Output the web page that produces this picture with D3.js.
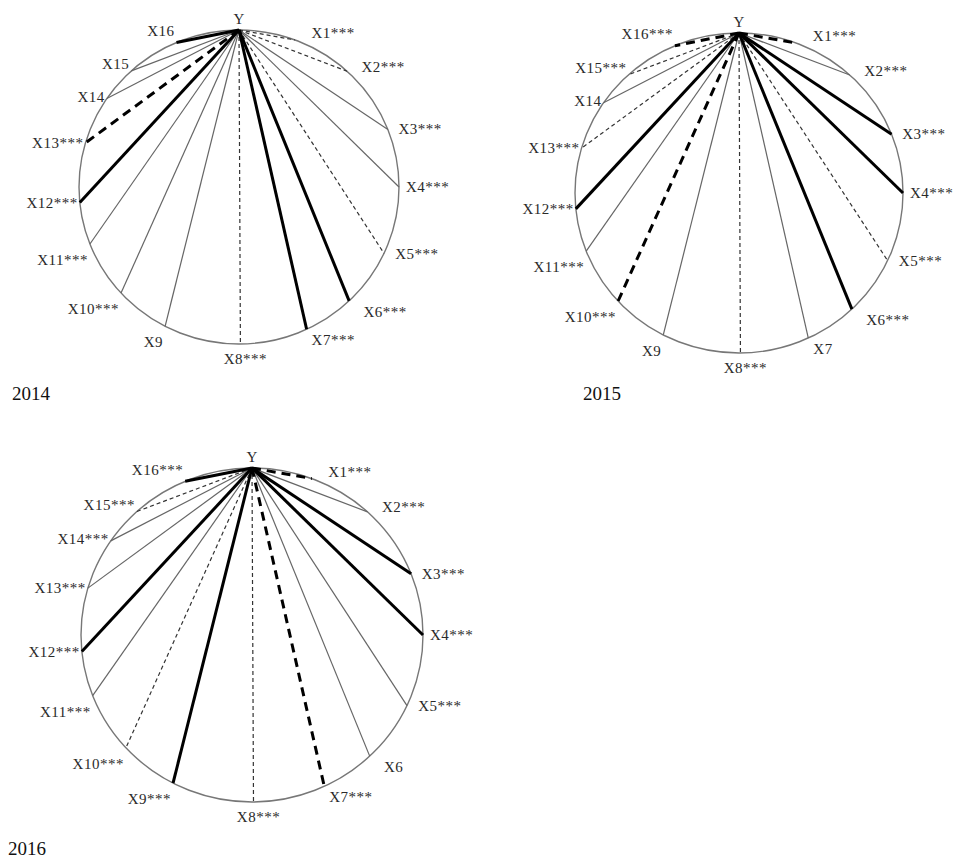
<!DOCTYPE html>
<html><head><meta charset="utf-8">
<script src="https://cdn.jsdelivr.net/npm/d3@7"></script>
<style>body{margin:0;background:#fff}svg{display:block}</style>
</head><body>
<svg id="c" width="959" height="862"></svg>
<script>
// ---- data ----
const variables = ["X1","X2","X3","X4","X5","X6","X7","X8","X9","X10","X11","X12","X13","X14","X15","X16"];
// angular position of each variable on the circle (degrees, clockwise from Y at the top)
const angles = [20.5, 42.5, 68.5, 90, 115, 136.5, 155, 179.5, 207.5, 227.5, 248.7, 264.3, 286.3, 304.3, 317.7, 337];
const years = ["2014", "2015", "2016"];
// link type: S = thick solid, s = thin solid, d = thin dashed, D = thick dashed
const links2014 = ["d","d","s","s","d","S","S","d","s","s","s","S","D","s","s","S"];
const links2015 = ["D","s","S","S","d","S","s","d","s","D","s","S","d","s","d","D"];
const links2016 = ["D","s","S","S","s","s","D","d","S","d","s","S","s","s","d","S"];
// significance marks
const sig2014 = ["***","***","***","***","***","***","***","***","","***","***","***","***","","",""];
const sig2015 = ["***","***","***","***","***","***","","***","","***","***","***","***","","***","***"];
const sig2016 = ["***","***","***","***","***","","***","***","***","***","***","***","***","***","***","***"];

const panels = [
  {year: years[0], links: links2014, sig: sig2014, cx: 239, cy: 187, rx: 160, ry: 157, yx: 12, yy: 400},
  {year: years[1], links: links2015, sig: sig2015, cx: 739, cy: 193, rx: 164, ry: 160, yx: 583, yy: 400},
  {year: years[2], links: links2016, sig: sig2016, cx: 252, cy: 635, rx: 171, ry: 167, yx: 8, yy: 855}
];

const styles = {
  S: {w: 3, c: "#000", dash: null},
  s: {w: 1.2, c: "#666", dash: null},
  d: {w: 1.2, c: "#333", dash: "4,3"},
  D: {w: 3, c: "#000", dash: "9,6"}
};

const svg = d3.select("#c");
const font = "'Liberation Serif','Times New Roman',serif";
const ang = d3.scaleLinear().domain([0, 360]).range([0, 2 * Math.PI]);
const clamp = v => Math.max(0, Math.min(1, v));

panels.forEach(p => {
  const g = svg.append("g");
  const pt = a => {
    const t = ang(a);
    return [p.cx + p.rx * Math.sin(t), p.cy - p.ry * Math.cos(t)];
  };
  g.append("ellipse").attr("cx", p.cx).attr("cy", p.cy).attr("rx", p.rx).attr("ry", p.ry)
    .attr("fill", "none").attr("stroke", "#777").attr("stroke-width", 1.4);
  const top = pt(0);
  const data = variables.map((v, i) => ({v, a: angles[i], type: p.links[i], lab: v + p.sig[i]}));
  const order = {s: 0, d: 1, D: 2, S: 3};
  g.selectAll("line.link").data(data.slice().sort((a, b) => order[a.type] - order[b.type])).join("line")
    .attr("class", "link")
    .attr("x1", top[0]).attr("y1", top[1])
    .attr("x2", d => pt(d.a)[0]).attr("y2", d => pt(d.a)[1])
    .attr("stroke", d => styles[d.type].c)
    .attr("stroke-width", d => styles[d.type].w)
    .attr("stroke-dasharray", d => styles[d.type].dash);

  const side = d => {
    const s = Math.sin(ang(d.a));
    return s > 0.15 ? 1 : (s < -0.15 ? -1 : 0);
  };
  g.selectAll("text.lab").data(data).join("text")
    .attr("class", "lab")
    .attr("x", d => {
      const c = Math.cos(ang(d.a)), e = pt(d.a), sd = side(d);
      if (sd === 1) return e[0] + (c > -0.8 ? 7 + 10 * Math.abs(c) : 5);
      if (sd === -1) return e[0] - 2;
      return e[0] + 5;
    })
    .attr("y", d => {
      const c = Math.cos(ang(d.a)), e = pt(d.a), sd = side(d);
      let dy;
      if (sd === 0) dy = c < 0 ? 15 : -12;
      else if (c < 0) dy = sd === -1 ? 16 * clamp((-c - 0.1) / 0.25) : 11 * clamp((-c - 0.4) / 0.3);
      else dy = sd === -1 ? -12 * clamp((c - 0.5) / 0.43) : -7 * clamp((c - 0.35) / 0.6);
      return e[1] + dy + 5;
    })
    .attr("text-anchor", d => side(d) === 1 ? "start" : (side(d) === -1 ? "end" : "middle"))
    .attr("font-family", font).attr("font-size", 15).attr("letter-spacing", 0.5).attr("fill", "#2a2a2a")
    .text(d => d.lab);
  g.append("text").attr("x", top[0]).attr("y", top[1] - 6).attr("text-anchor", "middle")
    .attr("font-family", font).attr("font-size", 15).attr("fill", "#2a2a2a").text("Y");
  g.append("text").attr("x", p.yx).attr("y", p.yy)
    .attr("font-family", font).attr("font-size", 19).attr("fill", "#111").text(p.year);
});
</script>
</body></html>
